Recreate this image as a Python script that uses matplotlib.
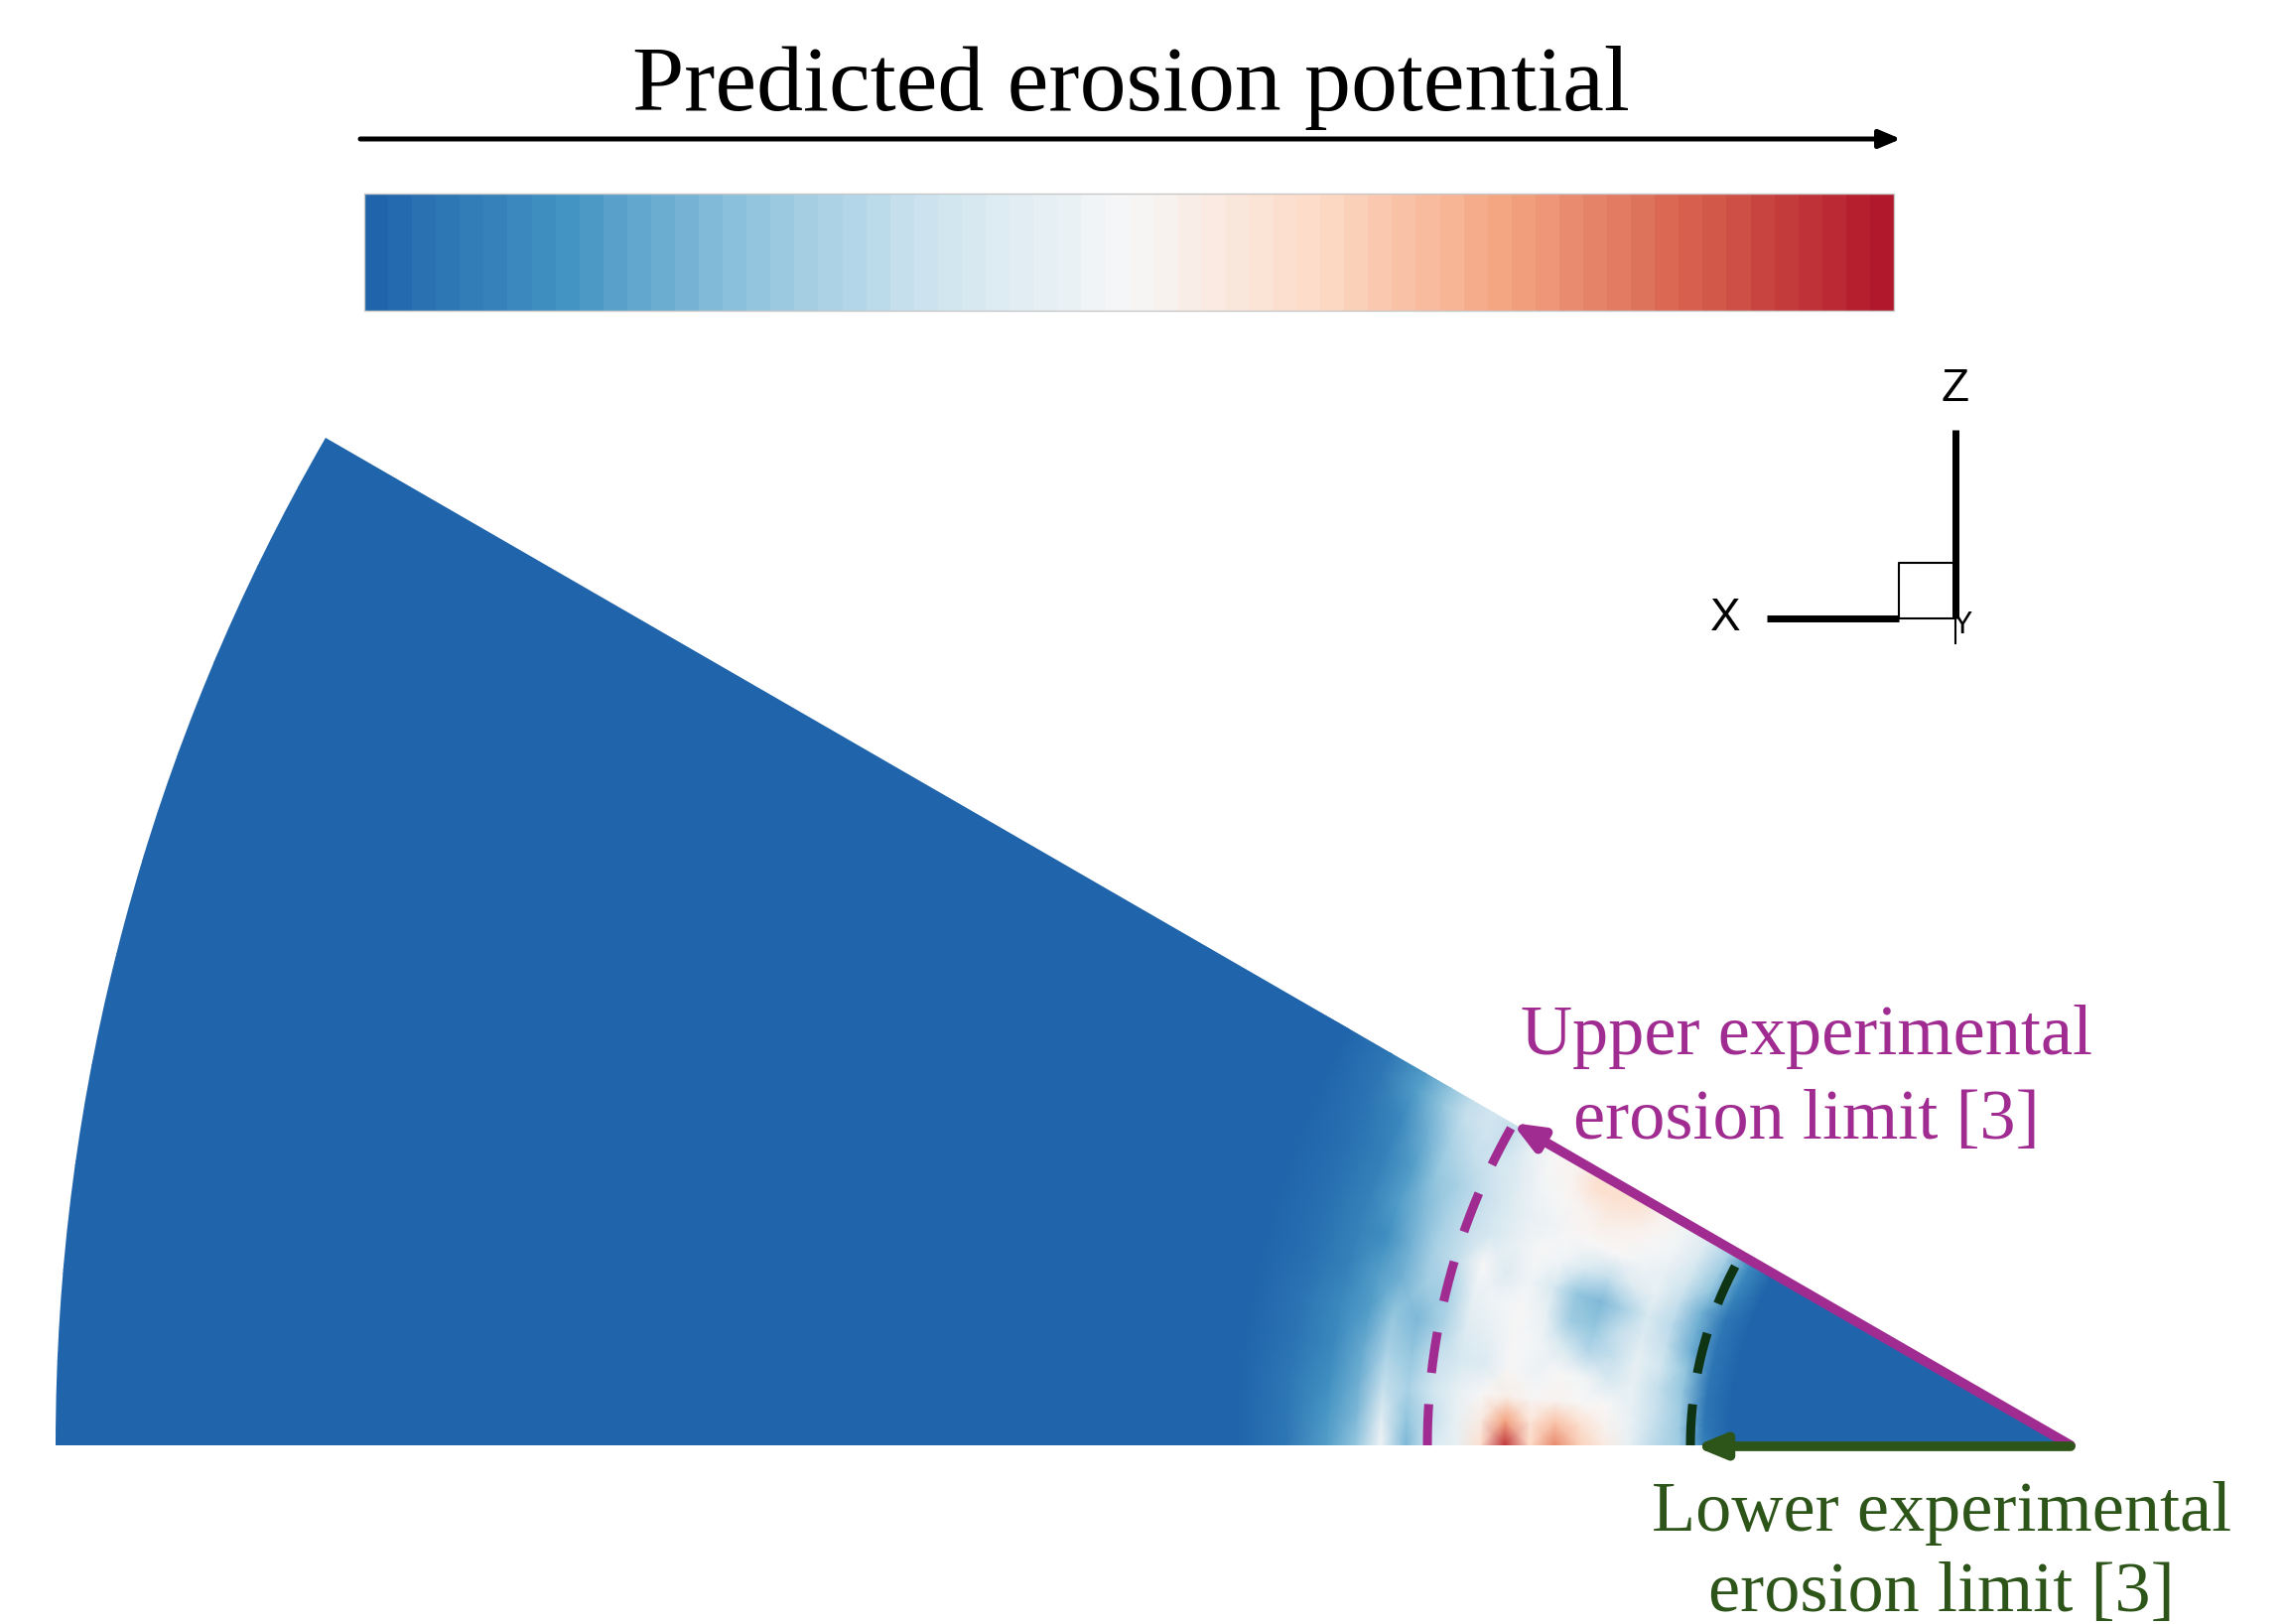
import matplotlib
matplotlib.use("Agg")
import matplotlib.pyplot as plt
from matplotlib.colors import ListedColormap, Normalize
from matplotlib.cm import ScalarMappable
from matplotlib.patches import Wedge
import numpy as np

# ---- data ----
# erosion potential (0 = low, 1 = high) on a polar grid around the wedge apex
# r in pixels from the apex, theta in degrees above the bottom edge
r_nodes = [0, 345, 370, 395, 420, 445, 470, 495, 520, 545, 570, 595, 620, 645,
           670, 695, 720, 750, 790, 840, 2100]
theta_nodes = [0, 2.5, 5, 8, 11, 14, 17, 20, 23, 26, 28.5, 30]
erosion = [
    [0, 0, 0.08, 0.28, 0.33, 0.45, 0.55, 0.65, 0.80, 0.62, 0.95, 0.60, 0.45, 0.40, 0.22, 0.48, 0.25, 0.15, 0.05, 0, 0],
    [0, 0, 0.06, 0.27, 0.35, 0.46, 0.52, 0.60, 0.68, 0.58, 0.75, 0.55, 0.45, 0.35, 0.25, 0.42, 0.22, 0.14, 0.05, 0, 0],
    [0, 0, 0.05, 0.27, 0.36, 0.45, 0.50, 0.50, 0.52, 0.50, 0.54, 0.50, 0.45, 0.38, 0.30, 0.35, 0.20, 0.12, 0.05, 0, 0],
    [0, 0, 0.05, 0.25, 0.35, 0.45, 0.40, 0.48, 0.50, 0.47, 0.50, 0.42, 0.40, 0.35, 0.25, 0.30, 0.18, 0.10, 0.04, 0, 0],
    [0, 0, 0.05, 0.25, 0.38, 0.45, 0.35, 0.32, 0.40, 0.48, 0.50, 0.45, 0.42, 0.30, 0.22, 0.25, 0.15, 0.10, 0.04, 0, 0],
    [0, 0, 0.05, 0.20, 0.35, 0.42, 0.35, 0.25, 0.28, 0.45, 0.50, 0.48, 0.45, 0.30, 0.28, 0.20, 0.15, 0.08, 0.03, 0, 0],
    [0, 0, 0.05, 0.20, 0.33, 0.40, 0.30, 0.22, 0.25, 0.40, 0.48, 0.42, 0.50, 0.35, 0.30, 0.20, 0.12, 0.08, 0.03, 0, 0],
    [0, 0, 0.05, 0.20, 0.35, 0.45, 0.42, 0.35, 0.40, 0.48, 0.50, 0.45, 0.40, 0.35, 0.30, 0.22, 0.15, 0.08, 0.03, 0, 0],
    [0, 0, 0.08, 0.25, 0.38, 0.45, 0.48, 0.50, 0.50, 0.50, 0.47, 0.45, 0.40, 0.35, 0.30, 0.25, 0.15, 0.08, 0.03, 0, 0],
    [0, 0, 0.10, 0.28, 0.40, 0.48, 0.50, 0.53, 0.55, 0.52, 0.50, 0.48, 0.42, 0.38, 0.35, 0.30, 0.20, 0.10, 0.04, 0, 0],
    [0, 0, 0.10, 0.30, 0.42, 0.48, 0.52, 0.58, 0.60, 0.60, 0.52, 0.50, 0.45, 0.35, 0.38, 0.35, 0.25, 0.15, 0.05, 0, 0],
    [0, 0, 0.10, 0.30, 0.42, 0.48, 0.52, 0.58, 0.60, 0.60, 0.52, 0.50, 0.45, 0.35, 0.38, 0.35, 0.25, 0.15, 0.05, 0, 0],
]

sector_radius, sector_angle = 2030, 30

# experimental erosion limits (radius in px from apex, angular extent in deg)
upper_limit_r, upper_limit_theta = 648, 30
lower_limit_r, lower_limit_theta = 383, 28.8

title = "Predicted erosion potential"
upper_label = ["Upper experimental", "erosion limit [3]"]
lower_label = ["Lower experimental", "erosion limit [3]"]

magenta = "#a02b91"
green_txt = "#2d5519"
green_dash = "#0e3414"

# ---- figure in pixel coordinates ----
W, H = 2302, 1636
fig = plt.figure(figsize=(W / 100, H / 100), dpi=100)
ax = fig.add_axes([0, 0, 1, 1])
ax.set_xlim(0, W)
ax.set_ylim(H, 0)
ax.set_aspect("equal")
ax.axis("off")

base = plt.get_cmap("RdBu_r")
field_cmap = ListedColormap(base(np.linspace(0.1, 0.9, 256)))
bar_cmap = ListedColormap(base(np.linspace(0.1, 0.9, 64)))

# wedge apex
ox, oy = 2086, 1456

R, T = np.meshgrid(np.array(r_nodes, float), np.radians(theta_nodes))
X = ox - R * np.cos(T)
Y = oy - R * np.sin(T)
mesh = ax.pcolormesh(X, Y, np.array(erosion), shading="gouraud", cmap=field_cmap,
                     vmin=0, vmax=1, zorder=1)
sector = Wedge((ox, oy), sector_radius, 180, 180 + sector_angle,
               transform=ax.transData)
mesh.set_clip_path(sector)

# dashed limit arcs
th = np.radians(np.linspace(0, upper_limit_theta, 200))
ax.plot(ox - upper_limit_r * np.cos(th), oy - upper_limit_r * np.sin(th),
        color=magenta, lw=6.5, ls=(0, (4.6, 3.5)), zorder=3)
th = np.radians(np.linspace(0, lower_limit_theta, 200))
ax.plot(ox - lower_limit_r * np.cos(th), oy - lower_limit_r * np.sin(th),
        color=green_dash, lw=6.5, ls=(0, (4.6, 3.5)), zorder=3)

# arrows from the apex to the limits
tu = np.radians(upper_limit_theta)
ax.annotate("", xy=(ox - (upper_limit_r + 2) * np.cos(tu), oy - (upper_limit_r + 2) * np.sin(tu)),
            xytext=(ox, oy),
            arrowprops=dict(arrowstyle="-|>,head_length=1.7,head_width=0.7",
                            mutation_scale=10, lw=7, color=magenta,
                            shrinkA=0, shrinkB=0), zorder=4)
ax.annotate("", xy=(ox - lower_limit_r + 4, oy + 1), xytext=(ox, oy + 1),
            arrowprops=dict(arrowstyle="-|>,head_length=1.7,head_width=0.7",
                            mutation_scale=10, lw=7, color=green_txt,
                            shrinkA=0, shrinkB=0), zorder=4)

# labels
serif = "Liberation Serif"
ax.text(1139, 111, title, ha="center", va="baseline", fontsize=67.5, family=serif)
for i, s in enumerate(upper_label):
    ax.text(1820, 1062 + 85 * i, s, ha="center", va="baseline", fontsize=52,
            family=serif, color=magenta)
for i, s in enumerate(lower_label):
    ax.text(1956, 1542 + 81 * i, s, ha="center", va="baseline", fontsize=52,
            family=serif, color=green_txt)

# black arrow above the colour bar
ax.annotate("", xy=(1915, 140), xytext=(363, 140),
            arrowprops=dict(arrowstyle="-|>,head_length=1.3,head_width=0.55",
                            mutation_scale=10, lw=3.6, color="black",
                            shrinkA=0, shrinkB=0))

# colour bar
cax = fig.add_axes([367 / W, 1 - 313 / H, (1908 - 367) / W, 118 / H])
cb = fig.colorbar(ScalarMappable(norm=Normalize(0, 1), cmap=bar_cmap), cax=cax,
                  orientation="horizontal")
cb.set_ticks([])
cb.outline.set_edgecolor("#c8c8c8")
cb.outline.set_linewidth(1)

# coordinate triad
sans = "Liberation Sans"
ax.plot([1970, 1970], [433, 623], color="black", lw=5, solid_capstyle="butt")
ax.plot([1780, 1913], [623, 623], color="black", lw=5, solid_capstyle="butt")
ax.plot([1913, 1913, 1970, 1970], [623, 567, 567, 648], color="black", lw=1.5)
ax.plot([1913, 1970], [623, 623], color="black", lw=1.5)
ax.text(1970, 392, "Z", ha="center", va="center", fontsize=33, family=sans)
ax.text(1738, 623, "X", ha="center", va="center", fontsize=33, family=sans)
ax.text(1977, 630, "Y", ha="center", va="center", fontsize=22, family=sans)

fig.savefig("out.png", dpi=100)
